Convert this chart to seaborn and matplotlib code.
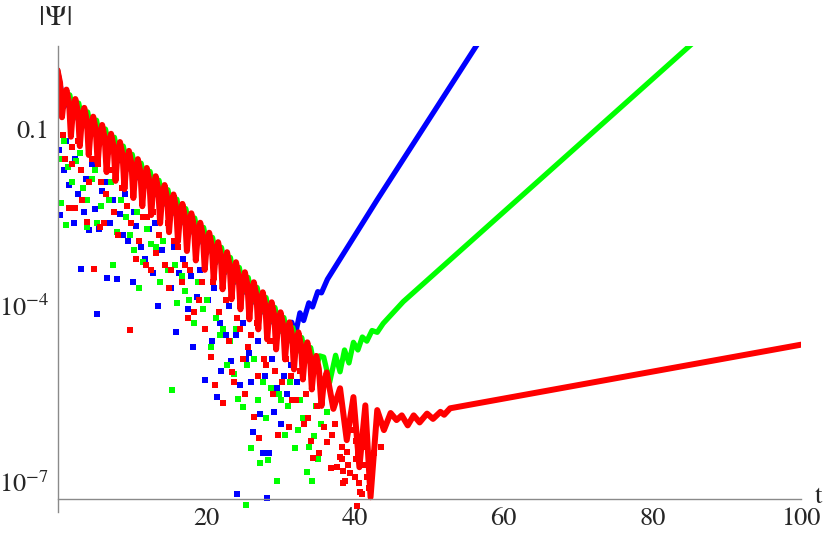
import pandas as pd
import matplotlib
matplotlib.use('Agg')
import matplotlib.pyplot as plt
import seaborn as sns

# ---- data: (t, log10 |Psi|) ----
# dense part of each signal, drawn as a thick line
blue_line = [
    (0.0, 0.00), (0.9, -0.62), (1.5, -0.42), (2.1, -0.83), (2.7, -0.58), (3.3, -0.97),
    (3.9, -0.72), (4.5, -1.11), (5.1, -0.87), (5.7, -1.26), (6.3, -1.01), (6.9, -1.40),
    (7.5, -1.16), (8.1, -1.55), (8.7, -1.30), (9.3, -1.69), (9.9, -1.45), (10.5, -1.84),
    (11.1, -1.59), (11.7, -1.98), (12.3, -1.74), (12.9, -2.13), (13.5, -1.89), (14.1, -2.29),
    (14.7, -2.04), (15.3, -2.45), (15.9, -2.20), (16.5, -2.61), (17.1, -2.36), (17.7, -2.77),
    (18.3, -2.52), (18.9, -2.94), (19.5, -2.69), (20.1, -3.10), (20.7, -2.85), (21.3, -3.27),
    (21.9, -3.02), (22.5, -3.44), (23.1, -3.19), (23.7, -3.61), (24.3, -3.36), (24.9, -3.78),
    (25.5, -3.53), (26.1, -3.95), (26.7, -3.70), (27.3, -4.12), (27.9, -3.87), (28.5, -4.29),
    (29.1, -4.04), (29.7, -4.45), (30.3, -4.20), (30.9, -4.58), (31.5, -4.28), (32.0, -4.48),
    (32.6, -4.12), (33.1, -4.25), (33.8, -3.95), (34.3, -4.02), (35.0, -3.76), (35.5, -3.78),
    (36.3, -3.55), (43.0, -2.20), (58.0, 0.74),
]
green_line = [
    (0.0, 0.00), (0.75, -0.58), (1.65, -0.42), (2.25, -0.80), (2.85, -0.56), (3.45, -0.94),
    (4.05, -0.71), (4.65, -1.08), (5.25, -0.85), (5.85, -1.23), (6.45, -1.00), (7.05, -1.37),
    (7.65, -1.14), (8.25, -1.52), (8.85, -1.29), (9.45, -1.66), (10.05, -1.43), (10.65, -1.81),
    (11.25, -1.58), (11.85, -1.95), (12.45, -1.72), (13.05, -2.10), (13.65, -1.87), (14.25, -2.26),
    (14.85, -2.03), (15.45, -2.42), (16.05, -2.19), (16.65, -2.58), (17.25, -2.35), (17.85, -2.74),
    (18.45, -2.51), (19.05, -2.90), (19.65, -2.67), (20.25, -3.07), (20.85, -2.84), (21.45, -3.24),
    (22.05, -3.01), (22.65, -3.41), (23.25, -3.18), (23.85, -3.58), (24.45, -3.35), (25.05, -3.75),
    (25.65, -3.52), (26.25, -3.92), (26.85, -3.69), (27.45, -4.09), (28.05, -3.86), (28.65, -4.26),
    (29.25, -4.03), (29.85, -4.43), (30.45, -4.20), (31.05, -4.60), (31.65, -4.37), (32.25, -4.77),
    (32.85, -4.54), (33.45, -4.94), (34.05, -4.71), (34.65, -5.10), (35.25, -4.85), (35.8, -4.87),
    (36.6, -5.30), (37.4, -4.84), (38.0, -5.12), (38.6, -4.75), (39.2, -4.97), (39.8, -4.62),
    (40.4, -4.75), (41.0, -4.53), (41.6, -4.60), (42.3, -4.42), (43.0, -4.45), (43.8, -4.30),
    (46.5, -3.93), (85.0, 0.41), (88.0, 0.75),
]
# red: peak, shoulder, notch, shoulder for every ringing period
red_line = [
    (0.0, 0.00), (0.35, -0.22), (0.6, -0.80), (0.85, -0.50),
    (1.2, -0.33), (1.55, -0.55), (1.8, -1.13), (2.05, -0.72),
    (2.4, -0.49), (2.75, -0.71), (3.0, -1.29), (3.25, -0.87),
    (3.6, -0.64), (3.95, -0.86), (4.2, -1.44), (4.45, -1.02),
    (4.8, -0.79), (5.15, -1.01), (5.4, -1.59), (5.65, -1.16),
    (6.0, -0.93), (6.35, -1.15), (6.6, -1.73), (6.85, -1.31),
    (7.2, -1.08), (7.55, -1.30), (7.8, -1.88), (8.05, -1.45),
    (8.4, -1.22), (8.75, -1.44), (9.0, -2.02), (9.25, -1.60),
    (9.6, -1.37), (9.95, -1.59), (10.2, -2.17), (10.45, -1.74),
    (10.8, -1.51), (11.15, -1.73), (11.4, -2.31), (11.65, -1.89),
    (12.0, -1.66), (12.35, -1.88), (12.6, -2.46), (12.85, -2.03),
    (13.2, -1.80), (13.55, -2.02), (13.8, -2.60), (14.05, -2.18),
    (14.4, -1.95), (14.75, -2.17), (15.0, -2.75), (15.25, -2.34),
    (15.6, -2.11), (15.95, -2.33), (16.2, -2.91), (16.45, -2.50),
    (16.8, -2.27), (17.15, -2.49), (17.4, -3.07), (17.65, -2.66),
    (18.0, -2.43), (18.35, -2.65), (18.6, -3.23), (18.85, -2.82),
    (19.2, -2.59), (19.55, -2.81), (19.8, -3.39), (20.05, -2.99),
    (20.4, -2.76), (20.75, -2.98), (21.0, -3.56), (21.25, -3.15),
    (21.6, -2.92), (21.95, -3.14), (22.2, -3.72), (22.45, -3.32),
    (22.8, -3.09), (23.15, -3.31), (23.4, -3.89), (23.65, -3.49),
    (24.0, -3.26), (24.35, -3.48), (24.6, -4.06), (24.85, -3.66),
    (25.2, -3.43), (25.55, -3.65), (25.8, -4.23), (26.05, -3.83),
    (26.4, -3.60), (26.75, -3.82), (27.0, -4.40), (27.25, -4.00),
    (27.6, -3.77), (27.95, -3.99), (28.2, -4.57), (28.45, -4.17),
    (28.8, -3.94), (29.15, -4.16), (29.4, -4.74), (29.65, -4.34),
    (30.0, -4.11), (30.35, -4.33), (30.6, -4.91), (30.85, -4.51),
    (31.2, -4.28), (31.55, -4.50), (31.8, -5.08), (32.05, -4.68),
    (32.4, -4.45), (32.75, -4.67), (33.0, -5.25), (33.25, -4.87),
    (33.6, -4.62), (33.95, -4.84), (34.2, -5.42), (34.45, -5.07),
    (34.8, -4.85), (35.15, -5.07), (35.5, -5.70), (35.8, -5.32),
    (36.2, -5.13), (37.1, -5.75), (38.0, -5.40), (38.9, -6.28), (39.8, -5.55), (40.6, -6.74),
    (41.4, -5.69), (42.1, -7.25), (43.0, -5.77), (43.9, -6.11), (44.8, -5.82), (45.6, -5.94),
    (46.3, -5.86), (47.1, -6.03), (47.9, -5.86), (48.7, -5.98), (49.7, -5.83), (50.5, -5.92),
    (51.5, -5.80), (52.0, -5.85), (52.8, -5.74), (100.0, -4.66),
]

# scattered sample points near the zeros of each signal
blue_dots = [
    (0.3, -2.46), (2.2, -2.60), (3.1, -3.38), (6.7, -3.53), (8.0, -3.55), (5.3, -4.14),
    (4.2, -2.71), (0.2, -1.35), (0.9, -1.70), (1.6, -1.95), (2.7, -2.10), (3.8, -1.85),
    (5.0, -2.35), (6.0, -2.05), (7.1, -2.60), (8.4, -2.45), (9.5, -2.90), (10.6, -2.65),
    (11.8, -3.20), (12.9, -3.45), (14.0, -3.05), (15.2, -3.70), (16.4, -3.45), (17.5, -4.05),
    (18.7, -3.85), (19.9, -5.26), (21.5, -5.55), (22.6, -4.50), (23.3, -4.94), (24.1, -7.20),
    (25.3, -4.90), (26.3, -6.14), (27.3, -5.84), (27.7, -6.50), (28.2, -7.27), (28.5, -6.50),
    (29.1, -5.80), (30.1, -6.00), (30.4, -5.20), (26.0, -5.30), (20.8, -4.60), (13.5, -4.00),
    (10.1, -3.60), (16.0, -4.45), (18.2, -4.70), (24.5, -5.35), (22.0, -5.10),
    (1.1, -1.20), (2.4, -1.50), (3.5, -2.40), (4.7, -1.60), (5.6, -2.70), (6.4, -1.90),
    (7.4, -2.20), (8.8, -2.80), (9.1, -2.10), (10.3, -2.40), (11.2, -3.00), (12.3, -2.70),
    (13.1, -2.60), (14.5, -3.30), (15.6, -3.00), (16.9, -3.20), (17.9, -3.50), (19.2, -3.40),
    (20.3, -3.90), (21.1, -3.70), (21.9, -4.30), (23.0, -4.00), (24.0, -4.50), (25.0, -4.30),
    (25.8, -4.80), (26.9, -4.60), (27.9, -5.20), (28.8, -4.90), (29.5, -5.40), (30.8, -5.50),
    (31.4, -5.00), (32.2, -5.30),
]
green_dots = [
    (0.5, -2.26), (1.2, -2.63), (4.0, -2.66), (5.3, -2.60), (0.4, -1.50), (1.4, -1.65),
    (2.5, -1.55), (3.4, -2.00), (4.6, -1.85), (5.8, -2.30), (6.9, -2.20), (8.0, -2.75),
    (9.2, -2.50), (10.3, -3.05), (11.5, -3.25), (12.6, -2.95), (13.8, -3.60), (14.9, -3.40),
    (15.4, -5.43), (16.1, -3.95), (17.2, -3.75), (18.4, -4.30), (19.5, -4.05), (20.7, -4.70),
    (21.8, -4.50), (22.8, -5.00), (23.7, -5.16), (24.3, -5.58), (24.9, -5.72), (25.4, -7.38),
    (26.0, -6.42), (26.9, -5.60), (27.2, -6.67), (28.0, -5.90), (28.3, -6.62), (29.5, -6.98),
    (29.8, -5.50), (30.6, -6.20), (31.0, -5.70), (31.9, -6.42), (32.6, -5.60), (33.0, -5.90),
    (33.5, -6.82), (34.2, -6.98), (34.5, -6.21), (34.8, -5.70), (35.5, -6.00), (7.5, -3.30),
    (11.0, -3.70),
    (0.9, -1.20), (1.9, -1.90), (3.0, -1.40), (3.9, -2.20), (5.1, -1.70), (6.3, -2.60),
    (7.2, -1.90), (8.5, -2.20), (9.7, -2.80), (10.7, -2.40), (12.0, -2.70), (13.2, -3.00),
    (14.2, -2.90), (15.8, -3.30), (16.7, -3.50), (17.7, -3.90), (18.9, -3.60), (20.1, -3.90),
    (21.3, -4.20), (22.3, -4.40), (23.2, -4.60), (24.0, -4.40), (25.5, -5.00), (26.4, -4.90),
    (27.6, -5.30), (28.7, -5.40), (30.0, -5.60), (31.3, -5.30), (32.3, -6.10), (33.8, -6.40),
    (35.0, -6.60), (36.2, -5.80),
]
red_dots = [
    (1.5, -2.34), (2.3, -2.34), (4.9, -3.38), (4.0, -2.58), (5.7, -2.66), (9.8, -4.41),
    (1.0, -1.50), (2.0, -1.30), (3.1, -1.70), (4.3, -1.90), (5.4, -1.60), (6.5, -2.10),
    (7.6, -2.40), (8.7, -2.00), (9.9, -2.60), (11.0, -2.90), (12.1, -2.50), (13.3, -3.10),
    (14.4, -3.30), (15.6, -2.90), (16.7, -3.60), (17.8, -3.40), (19.0, -3.90), (20.6, -4.87),
    (21.2, -5.35), (22.2, -5.65), (23.5, -5.12), (23.7, -5.30), (24.6, -4.40), (25.6, -4.70),
    (26.4, -5.89), (27.1, -6.24), (28.1, -5.00), (29.6, -6.20), (30.2, -5.30), (31.1, -6.06),
    (32.1, -5.60), (33.2, -6.00), (34.4, -6.59), (35.8, -6.06), (36.3, -6.31), (36.8, -6.76),
    (37.6, -6.74), (38.0, -6.57), (38.4, -7.00), (38.6, -6.98), (39.0, -6.48), (39.1, -6.70),
    (39.4, -6.84), (40.3, -7.40), (40.5, -7.00), (40.7, -7.16), (40.9, -7.20), (38.2, -6.40),
    (38.3, -6.60), (38.4, -6.80), (40.0, -6.90), (40.2, -6.60), (40.1, -6.30), (41.4, -6.40),
    (41.6, -6.90), (41.9, -7.10), (33.7, -5.90), (34.9, -5.70), (31.6, -5.60), (29.0, -5.50),
    (27.0, -5.20), (25.2, -5.50), (18.4, -4.10), (15.0, -3.70), (12.6, -3.40), (10.5, -3.20),
    (0.7, -1.10), (1.9, -1.60), (2.8, -1.20), (3.3, -2.20), (4.6, -1.50), (5.9, -1.90),
    (6.2, -2.60), (7.0, -1.70), (8.1, -2.80), (8.9, -1.90), (9.3, -2.30), (10.1, -2.10),
    (11.5, -2.50), (11.9, -3.30), (12.9, -2.40), (13.6, -2.80), (14.8, -2.60), (15.3, -3.40),
    (16.2, -3.00), (17.1, -3.30), (17.5, -4.20), (18.6, -3.10), (19.4, -3.60), (19.9, -4.40),
    (20.9, -3.60), (21.7, -4.10), (22.6, -3.90), (23.0, -4.60), (24.1, -4.20), (25.0, -4.90),
    (26.0, -4.50), (26.8, -4.30), (27.8, -4.90), (28.6, -4.60), (29.3, -5.10), (30.7, -4.90),
    (31.4, -5.20), (32.6, -5.10), (33.4, -5.50), (34.1, -6.30), (35.2, -6.50), (36.9, -6.20),
    (37.3, -6.00), (39.6, -6.10), (40.4, -6.50), (41.2, -6.70), (42.6, -6.50), (43.5, -6.40),
]

x_major = [20, 40, 60, 80, 100]
x_minor = [5, 10, 15, 25, 30, 35, 45, 50, 55, 65, 70, 75, 85, 90, 95]
y_major = [1e-1, 1e-4, 1e-7]
y_labels = ['0.1', r'$10^{-4}$', r'$10^{-7}$']
y_minor = [0.09, 0.08, 0.07, 0.06, 0.05, 0.04, 0.03, 0.02,
           9e-5, 8e-5, 7e-5, 6e-5, 5e-5, 4e-5, 3e-5, 2e-5]

colors = {'blue': '#0000ff', 'green': '#00ff00', 'red': '#ff0000'}
widths = {'blue': 3.8, 'green': 3.8, 'red': 4.3}


def to_frame(pairs):
    df = pd.DataFrame(pairs, columns=['t', 'logpsi'])
    df['psi'] = 10.0 ** df['logpsi']
    return df


sns.set_style('white')
plt.rcParams['font.family'] = ['STIXGeneral', 'DejaVu Serif']
plt.rcParams['mathtext.fontset'] = 'stix'

fig = plt.figure(figsize=(8.3, 5.36), dpi=100)
ax = fig.add_axes([0.0693, 0.0448, 0.8958, 0.8694])
ax.set_yscale('log')

series = [('blue', blue_line, blue_dots),
          ('green', green_line, green_dots),
          ('red', red_line, red_dots)]
for name, line, dots in series:
    c = colors[name]
    sns.lineplot(data=to_frame(line), x='t', y='psi', sort=False, estimator=None,
                 color=c, linewidth=widths[name], ax=ax)
    sns.scatterplot(data=to_frame(dots), x='t', y='psi', color=c, marker='s',
                    s=14, linewidth=0, ax=ax)

ax.set_xlim(0, 100)
ax.set_ylim(10 ** -7.5, 10 ** 0.41)

# Mathematica-like axes
axis_gray = '#8a8a8a'
for side in ['top', 'right']:
    ax.spines[side].set_visible(False)
ax.spines['bottom'].set_position(('data', 10 ** -7.28))
for side in ['left', 'bottom']:
    ax.spines[side].set_color(axis_gray)
    ax.spines[side].set_linewidth(1.0)

ax.set_xticks(x_major)
ax.set_xticklabels([str(v) for v in x_major])
ax.set_xticks(x_minor, minor=True)
ax.set_yticks(y_major)
ax.set_yticklabels(y_labels)
ax.set_yticks(y_minor, minor=True)
ax.set_yticklabels([], minor=True)
ax.tick_params(axis='both', which='major', direction='in', length=6, width=1,
               color=axis_gray, labelsize=19, pad=6)
ax.tick_params(axis='both', which='minor', direction='in', length=4, width=1,
               color=axis_gray)
ax.set_xlabel('')
ax.set_ylabel('')

fig.text(56 / 830, 1 - 18 / 536, '|Ψ|', ha='center', va='center', fontsize=21)
fig.text(818 / 830, 1 - 497 / 536, 't', ha='center', va='center', fontsize=19)

fig.savefig('out.png', dpi=100, facecolor='white')
